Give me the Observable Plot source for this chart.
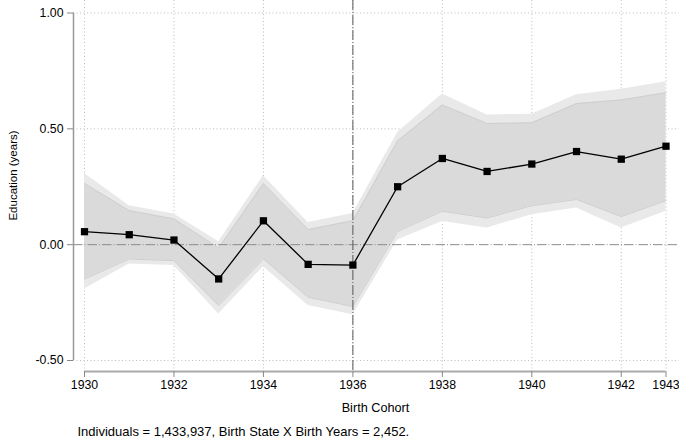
<!DOCTYPE html>
<html><head><meta charset="utf-8">
<script src="https://cdn.jsdelivr.net/npm/d3@7"></script>
<script src="https://cdn.jsdelivr.net/npm/@observablehq/plot@0.6"></script>
<style>body{margin:0;background:#fff} svg{display:block}</style>
</head><body><div id="chart"></div>
<script>
const years = [1930, 1931, 1932, 1933, 1934, 1935, 1936, 1937, 1938, 1939, 1940, 1941, 1942, 1943];
const coef    = [0.056, 0.043, 0.020, -0.148, 0.103, -0.085, -0.088, 0.250, 0.372, 0.316, 0.348, 0.402, 0.369, 0.425];
const innerHi = [0.264, 0.147, 0.111, -0.014, 0.264, 0.065, 0.103, 0.448, 0.603, 0.523, 0.526, 0.609, 0.625, 0.656];
const innerLo = [-0.148, -0.062, -0.069, -0.263, -0.062, -0.227, -0.267, 0.057, 0.144, 0.115, 0.168, 0.195, 0.121, 0.190];
const outerHi = [0.307, 0.168, 0.132, 0.013, 0.297, 0.096, 0.135, 0.484, 0.650, 0.560, 0.563, 0.647, 0.671, 0.703];
const outerLo = [-0.191, -0.083, -0.090, -0.299, -0.095, -0.263, -0.302, 0.020, 0.100, 0.072, 0.129, 0.158, 0.072, 0.144];
const xTicks = [1930, 1932, 1934, 1936, 1938, 1940, 1942, 1943];
const yTicks = [-0.5, 0, 0.5, 1];
const gridYs = [-0.5, 0.5, 1];
const treatYear = 1936;
const yTitle = "Education (years)";
const xTitle = "Birth Cohort";
const caption = "Individuals = 1,433,937, Birth State X Birth Years = 2,452.";

const rows = years.map((year, i) => ({year, coef: coef[i], innerHi: innerHi[i], innerLo: innerLo[i], outerHi: outerHi[i], outerLo: outerLo[i]}));

const pxPerYear = (665.5 - 84) / 13;
const xMin = 1930 - (84 - 73) / pxPerYear;
const xMax = 1943 + (679 - 665.5) / pxPerYear;
const pxPerUnit = (360 - 12.5) / 1.5;
const yMax = 1 + 12.5 / pxPerUnit;
const yMin = -0.5 - (371 - 360) / pxPerUnit;
const font = "'Liberation Sans', Arial, Helvetica, sans-serif";

const chart = Plot.plot({
  width: 679, height: 442,
  marginTop: 0, marginLeft: 73, marginRight: 0, marginBottom: 71,
  style: {fontFamily: font, background: "#fff", color: "#000"},
  x: {domain: [xMin, xMax]},
  y: {domain: [yMin, yMax]},
  marks: [
    Plot.gridX(xTicks, {stroke: "#bdbdbd", strokeOpacity: 1, strokeDasharray: "1,2.5"}),
    Plot.gridY(gridYs, {stroke: "#bdbdbd", strokeOpacity: 1, strokeDasharray: "1,2.5"}),
    Plot.areaY(rows, {x: "year", y1: "outerLo", y2: "outerHi", fill: "#e9e9e9"}),
    Plot.areaY(rows, {x: "year", y1: "innerLo", y2: "innerHi", fill: "#dadada"}),
    Plot.line(rows, {x: "year", y: "innerHi", stroke: "#cfcfcf", strokeWidth: 1}),
    Plot.line(rows, {x: "year", y: "innerLo", stroke: "#cfcfcf", strokeWidth: 1}),
    Plot.ruleY([0], {stroke: "#8c8c8c", strokeWidth: 1, strokeDasharray: "9.5,2,1,2"}),
    Plot.ruleX([treatYear], {stroke: "#555", strokeWidth: 1, strokeDasharray: "10,2,1,2"}),
    Plot.ruleX([xMin], {y1: -0.5, y2: 1, stroke: "#999", strokeWidth: 1.5}),
    Plot.ruleY([yMin], {x1: 1930, x2: 1943, stroke: "#aaa", strokeWidth: 1.8}),
    Plot.axisY(yTicks, {anchor: "left", tickFormat: d => d.toFixed(2), tickSize: 6, tickPadding: 4, stroke: "#888", fontSize: 12.3, label: null}),
    Plot.axisX(xTicks, {anchor: "bottom", tickFormat: d => String(d), tickSize: 6, tickPadding: 3, stroke: "#888", fontSize: 12.3, label: null}),
    Plot.line(rows, {x: "year", y: "coef", stroke: "#000", strokeWidth: 1.3}),
    Plot.dot(rows, {x: "year", y: "coef", symbol: "square", r: 4.1, fill: "#000", stroke: "none"}),
    Plot.text([yTitle], {text: d => d, frameAnchor: "left", textAnchor: "middle", lineAnchor: "middle", rotate: -90, dx: 13 - 73, dy: -10.5, fontSize: 11.5, fill: "#000"}),
    Plot.text([xTitle], {text: d => d, frameAnchor: "bottom", textAnchor: "middle", lineAnchor: "middle", dx: -1, dy: 36, fontSize: 12.7, fill: "#000"}),
    Plot.text([caption], {text: d => d, frameAnchor: "bottom-left", textAnchor: "start", lineAnchor: "middle", dx: 4, dy: 60, fontSize: 13, fill: "#000"})
  ]
});
document.getElementById("chart").appendChild(chart);
</script>
</body></html>
